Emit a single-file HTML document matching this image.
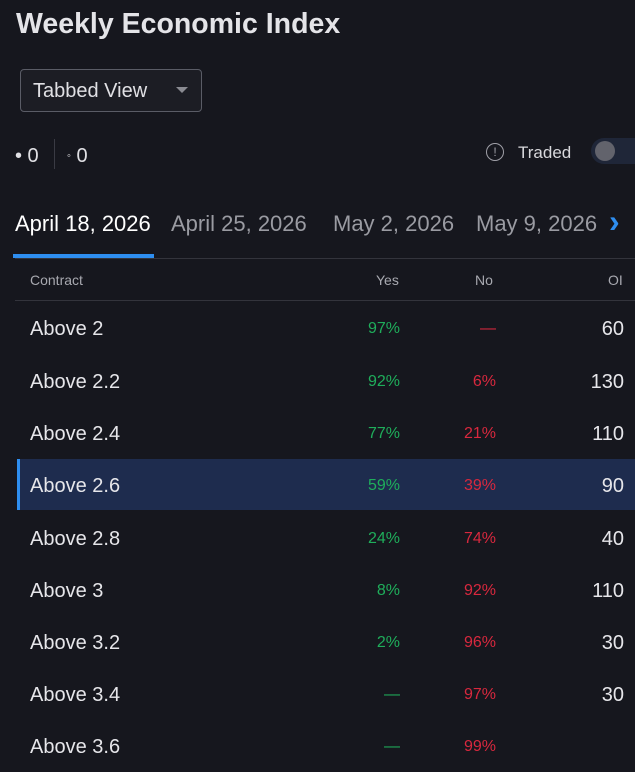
<!DOCTYPE html>
<html><head><style>
body{margin:0;width:635px;height:764px;background:#16171e;font-family:"Liberation Sans",sans-serif;color:#e8e8ec;position:relative;overflow:hidden}
.a{position:absolute;white-space:nowrap}
.row{position:absolute;left:17px;width:618px;height:52px}
.row .c{position:absolute;left:13px;top:16px;font-size:20px;color:#e6e6ea}
.row .y{position:absolute;right:235px;top:18px;font-size:16px;color:#1fae5b}
.row .n{position:absolute;right:139px;top:18px;font-size:16px;color:#d8283e}
.row .o{position:absolute;right:11px;top:16px;font-size:20px;color:#e6e6ea}
</style></head><body>
<div class="a" style="left:16px;top:8px;font-size:28.5px;font-weight:bold;color:#e4e4e8">Weekly Economic Index</div>
<div class="a" style="left:20px;top:69px;width:180px;height:41px;border:1px solid #5a5c66;border-radius:4px;background:#1c1d24"></div>
<div class="a" style="left:33px;top:80px;font-size:20px;color:#e0e0e4">Tabbed View</div>
<div class="a" style="left:176px;top:87px;width:0;height:0;border-left:6px solid transparent;border-right:6px solid transparent;border-top:6px solid #8a8b92"></div>
<div class="a" style="left:15px;top:145px;font-size:20px;color:#e0e0e4">• 0</div>
<div class="a" style="left:54px;top:139px;width:1px;height:30px;background:#3a3b44"></div>
<div class="a" style="left:67px;top:145px;font-size:20px;color:#e0e0e4"><span style="font-size:11px;vertical-align:3px">◦</span> 0</div>
<div class="a" style="left:486px;top:143px;width:16px;height:16px;border:1.5px solid #a0a0a8;border-radius:50%;font-size:12px;text-align:center;line-height:16px;color:#a0a0a8">!</div>
<div class="a" style="left:518px;top:143px;font-size:17px;color:#d8d8dc">Traded</div>
<div class="a" style="left:591px;top:138px;width:60px;height:26px;border-radius:13px;background:#1f2638"></div>
<div class="a" style="left:595px;top:141px;width:20px;height:20px;border-radius:50%;background:#62636c"></div>
<div class="a" style="left:15px;top:211px;font-size:22px;color:#fff">April 18, 2026</div>
<div class="a" style="left:171px;top:211px;font-size:22px;color:#9a9ba2">April 25, 2026</div>
<div class="a" style="left:333px;top:211px;font-size:22px;color:#9a9ba2">May 2, 2026</div>
<div class="a" style="left:476px;top:211px;font-size:22px;color:#9a9ba2">May 9, 2026</div>
<div class="a" style="left:609px;top:203px;font-size:32px;font-weight:bold;color:#2e8ef0">›</div>
<div class="a" style="left:15px;top:258px;width:620px;height:1px;background:#33343c"></div>
<div class="a" style="left:13px;top:254px;width:141px;height:4px;background:#2e8ef0"></div>
<div class="a" style="left:30px;top:272px;font-size:14px;color:#a8a9b0">Contract</div>
<div class="a" style="left:376px;top:272px;font-size:14px;color:#a8a9b0">Yes</div>
<div class="a" style="left:475px;top:272px;font-size:14px;color:#a8a9b0">No</div>
<div class="a" style="left:608px;top:272px;font-size:14px;color:#a8a9b0">OI</div>
<div class="a" style="left:15px;top:300px;width:620px;height:1px;background:#33343c"></div>

<div class="row" style="top:302px"><span class="c">Above 2</span><span class="y">97%</span><span class="n">—</span><span class="o">60</span></div>
<div class="row" style="top:355px"><span class="c">Above 2.2</span><span class="y">92%</span><span class="n">6%</span><span class="o">130</span></div>
<div class="row" style="top:407px"><span class="c">Above 2.4</span><span class="y">77%</span><span class="n">21%</span><span class="o">110</span></div>
<div class="row" style="top:459px;background:#1e2c4e;height:51px"><div style="position:absolute;left:0;top:0;width:3px;height:51px;background:#2e8ef0"></div><span class="c">Above 2.6</span><span class="y">59%</span><span class="n">39%</span><span class="o">90</span></div>
<div class="row" style="top:512px"><span class="c">Above 2.8</span><span class="y">24%</span><span class="n">74%</span><span class="o">40</span></div>
<div class="row" style="top:564px"><span class="c">Above 3</span><span class="y">8%</span><span class="n">92%</span><span class="o">110</span></div>
<div class="row" style="top:616px"><span class="c">Above 3.2</span><span class="y">2%</span><span class="n">96%</span><span class="o">30</span></div>
<div class="row" style="top:668px"><span class="c">Above 3.4</span><span class="y">—</span><span class="n">97%</span><span class="o">30</span></div>
<div class="row" style="top:720px"><span class="c">Above 3.6</span><span class="y">—</span><span class="n">99%</span><span class="o"></span></div>
</body></html>
